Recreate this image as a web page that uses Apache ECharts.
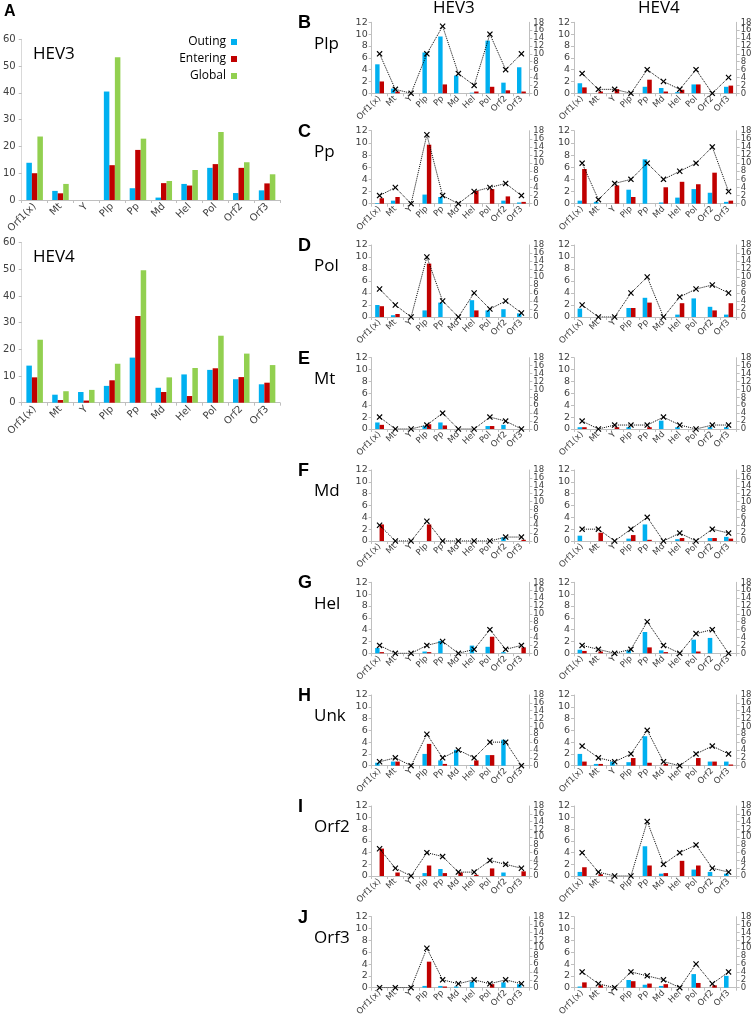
<!DOCTYPE html>
<html><head><meta charset="utf-8">
<script src="https://cdn.jsdelivr.net/npm/echarts/dist/echarts.min.js"></script>
<style>html,body{margin:0;padding:0;background:#fff}#c{width:756px;height:1020px}</style>
</head><body><div id="c"></div>
<script>
// ---------- DATA ----------
const categories = ['Orf1(x)','Mt','Y','Plp','Pp','Md','Hel','Pol','Orf2','Orf3'];
const seriesNames = ['Outing','Entering','Global'];

// Panel A
const a3Outing   = [13.9, 3.4, 0, 40.5, 4.4, 0.9, 6.0, 12.0, 2.6, 3.6];
const a3Entering = [10.0, 2.5, 0, 13.0, 18.7, 6.3, 5.4, 13.4, 12.0, 6.2];
const a3Global   = [23.7, 6.0, 0, 53.3, 22.9, 7.1, 11.2, 25.4, 14.1, 9.6];
const a4Outing   = [13.9, 3.0, 4.0, 6.3, 16.9, 5.6, 10.6, 12.3, 8.8, 6.9];
const a4Entering = [9.5, 1.0, 0.8, 8.4, 32.5, 4.0, 2.5, 12.9, 9.6, 7.5];
const a4Global   = [23.6, 4.3, 4.8, 14.6, 49.6, 9.5, 13.0, 25.1, 18.4, 14.1];

// Panels B-J
const rowLetters = ['B','C','D','E','F','G','H','I','J'];
const rowNames   = ['Plp','Pp','Pol','Mt','Md','Hel','Unk','Orf2','Orf3'];

const plp3Out  = [4.9,0.8,0,6.9,9.6,3.0,0.1,8.9,1.8,4.4];
const plp3Ent  = [2.0,0.3,0,0,1.5,0,0.3,1.1,0.5,0.3];
const plp3Glob = [10,1,0,10,17,5,2,15,6,10];
const plp4Out  = [1.7,0,0,0,1.1,0.9,0.2,1.5,0,1.1];
const plp4Ent  = [1.0,0.3,0.7,0,2.3,0.3,0.6,1.5,0,1.3];
const plp4Glob = [5,1,1,0,6,3,1,6,0,4];

const pp3Out  = [0.1,0.5,0,1.5,1.1,0,0,0,0.5,0.2];
const pp3Ent  = [0.9,1.1,0,9.7,0,0,2.1,2.4,1.2,0.3];
const pp3Glob = [2,4,0,17,2,0,3,4,5,2];
const pp4Out  = [0.5,0.3,0,2.3,7.3,0.2,1.0,2.4,1.8,0.3];
const pp4Ent  = [5.7,0,3.0,1.1,0,2.7,3.6,3.2,5.1,0.5];
const pp4Glob = [10,1,5,6,10,6,8,10,14,3];

const pol3Out  = [2.0,0.3,0,1.1,2.4,0,2.8,1.1,1.3,0.6];
const pol3Ent  = [1.8,0.5,0,8.9,0,0,1.1,0,0,0];
const pol3Glob = [7,3,0,15,4,0,6,2,4,1];
const pol4Out  = [1.4,0,0,1.5,3.2,0,0.4,3.1,1.7,0.4];
const pol4Ent  = [0,0,0,1.5,2.4,0,2.3,0,1.1,2.3];
const pol4Glob = [3,0,0,6,10,0,5,7,8,6];

const mt3Out  = [1.1,0,0,0.5,1.1,0,0,0.5,0.7,0];
const mt3Ent  = [0.7,0,0,0.8,0.6,0,0,0.5,0,0];
const mt3Glob = [3,0,0,1,4,0,0,3,2,0];
const mt4Out  = [0.3,0,0,0.3,0,1.4,0.3,0,0.3,0.3];
const mt4Ent  = [0.3,0,0.3,0,0.3,0,0,0,0,0];
const mt4Glob = [2,0,1,1,1,3,1,0,1,1];

const md3Out  = [0,0,0,0,0,0,0,0,0.6,0];
const md3Ent  = [2.8,0,0,2.8,0,0,0,0,0,0.2];
const md3Glob = [4,0,0,5,0,0,0,0,1,1];
const md4Out  = [0.9,0,0,0.4,2.8,0,0.3,0,0.5,0.7];
const md4Ent  = [0,1.4,0,1.0,0.2,0,0.5,0,0.5,0.4];
const md4Glob = [3,3,0,3,6,0,2,0,3,2];

const hel3Out  = [0.9,0,0,0.3,2.1,0,1.3,1.1,0.2,0];
const hel3Ent  = [0.2,0,0,0.2,0,0,0,2.8,0,1.0];
const hel3Glob = [2,0,0,2,3,0,1,6,1,2];
const hel4Out  = [0.6,0,0,0.5,3.6,0.5,0,2.3,2.6,0];
const hel4Ent  = [0.4,0.3,0,0,1.0,0.2,0,0.3,0,0];
const hel4Glob = [2,1,0,1,8,2,0,5,6,0];

const unk3Out  = [0.5,0.7,0,2.0,0.9,2.7,0.1,1.8,4.4,0];
const unk3Ent  = [0,0.7,0,3.7,0.3,0,0.9,1.8,0,0];
const unk3Glob = [1,2,0,8,2,4,2,6,6,0];
const unk4Out  = [2.0,0.3,0.7,0.6,5.0,0,0,0,0.7,0.7];
const unk4Ent  = [0.7,0.3,0,1.3,0.5,0.3,0,1.3,0.7,0.2];
const unk4Glob = [5,2,1,3,9,1,0,3,5,3];

const orf23Out  = [0,0,0,0.5,1.2,0,0,0,0.6,0];
const orf23Ent  = [4.7,0.6,0,1.8,0.5,0.6,0.2,1.3,0,0.8];
const orf23Glob = [7,2,0,6,5,1,1,4,3,2];
const orf24Out  = [0.7,0,0,0,5.1,0.4,0,1.1,0.7,0.4];
const orf24Ent  = [1.5,0.3,0,0,1.8,0.5,2.6,1.8,0,0];
const orf24Glob = [6,1,0,0,14,3,6,8,2,1];

const orf33Out  = [0,0,0,0.3,0.3,0.2,1.0,0,0.9,0.6];
const orf33Ent  = [0,0,0,4.4,0.2,0,0,0.6,0,0];
const orf33Glob = [0,0,0,10,2,1,2,1,2,1];
const orf34Out  = [0.2,0,0,1.3,0.5,0.3,0,2.3,0,2.0];
const orf34Ent  = [0.9,0.4,0,1.1,0.7,0.6,0,0.8,0.4,0];
const orf34Glob = [4,1,0,4,3,2,0,6,1,4];

const rowsHev3 = [
  [plp3Out,plp3Ent,plp3Glob],[pp3Out,pp3Ent,pp3Glob],[pol3Out,pol3Ent,pol3Glob],
  [mt3Out,mt3Ent,mt3Glob],[md3Out,md3Ent,md3Glob],[hel3Out,hel3Ent,hel3Glob],
  [unk3Out,unk3Ent,unk3Glob],[orf23Out,orf23Ent,orf23Glob],[orf33Out,orf33Ent,orf33Glob]
];
const rowsHev4 = [
  [plp4Out,plp4Ent,plp4Glob],[pp4Out,pp4Ent,pp4Glob],[pol4Out,pol4Ent,pol4Glob],
  [mt4Out,mt4Ent,mt4Glob],[md4Out,md4Ent,md4Glob],[hel4Out,hel4Ent,hel4Glob],
  [unk4Out,unk4Ent,unk4Glob],[orf24Out,orf24Ent,orf24Glob],[orf34Out,orf34Ent,orf34Glob]
];

// ---------- LAYOUT / STYLE ----------
const BLUE = '#00B0F0', RED = '#C00000', GREEN = '#92D050';
const AXIS_GRAY = '#BFBFBF', LABEL = '#404040';
const TICK_FONT = 'DejaVu Sans';
const rowTops = [22.3, 130.7, 245, 357.7, 470, 582.3, 695, 806, 916.7];
const rowHeights = [71, 73, 72, 71.3, 71, 71, 70.7, 70, 71];
const colLeft = [371.7, 574];
const colWidth = [157.6, 162.7];
const XMARK = 'path://M0,1.4L1.4,0L5,3.6L8.6,0L10,1.4L6.4,5L10,8.6L8.6,10L5,6.4L1.4,10L0,8.6L3.6,5Z';

const grids = [], xAxes = [], yAxes = [], series = [], graphics = [];

function catAxis(gi, fontSize, margin) {
  return {
    type: 'category', gridIndex: gi, data: categories,
    axisLine: {show: true, lineStyle: {color: AXIS_GRAY, width: 1}},
    axisTick: {show: true, interval: 0, length: 3, lineStyle: {color: AXIS_GRAY}},
    axisLabel: {interval: 0, rotate: 45, fontSize: fontSize, color: LABEL, fontFamily: TICK_FONT, margin: margin, hideOverlap: false},
    splitLine: {show: false}
  };
}
function valAxis(gi, max, interval, position, label, lineColor) {
  return {
    type: 'value', gridIndex: gi, min: 0, max: max, interval: interval, position: position,
    axisLine: {show: true, lineStyle: {color: lineColor || AXIS_GRAY, width: 1}},
    axisTick: {show: true, length: 3, lineStyle: {color: AXIS_GRAY}},
    axisLabel: Object.assign({color: LABEL, fontFamily: TICK_FONT, showMinLabel: true, showMaxLabel: true, hideOverlap: false}, label),
    splitLine: {show: false}
  };
}

// Panel A
[[39.3, 160.7, a3Outing, a3Entering, a3Global],
 [242.6, 160.1, a4Outing, a4Entering, a4Global]].forEach((p) => {
  const gi = grids.length;
  grids.push({left: 20, top: p[0], width: 260, height: p[1]});
  xAxes.push(catAxis(gi, 10, 5));
  const xi = xAxes.length - 1;
  const yi = yAxes.length;
  yAxes.push(valAxis(gi, 60, 10, 'left', {fontSize: 10, margin: 6}, '#D9D9D9'));
  [[p[2], BLUE, 'Outing'], [p[3], RED, 'Entering'], [p[4], GREEN, 'Global']].forEach((s) => {
    series.push({type: 'bar', name: s[2], xAxisIndex: xi, yAxisIndex: yi, data: s[0],
      itemStyle: {color: s[1]}, barGap: '0%', barCategoryGap: '36%', silent: true});
  });
});

// Panels B-J
const rightLabel = {fontSize: 8.5, margin: 4};
for (let r = 0; r < 9; r++) {
  [rowsHev3[r], rowsHev4[r]].forEach((d, c) => {
    const gi = grids.length;
    grids.push({left: colLeft[c], top: rowTops[r], width: colWidth[c], height: rowHeights[r]});
    xAxes.push(catAxis(gi, 8.5, 4));
    const xi = xAxes.length - 1;
    const yl = yAxes.length;
    yAxes.push(valAxis(gi, 12, 2, 'left', {fontSize: 9.5, margin: 4}));
    // right axis (data axis): labels 0,4,8,12,16
    const yr = yAxes.length;
    yAxes.push(valAxis(gi, 18, 2, 'right', Object.assign({}, rightLabel, {
      showMinLabel: true, showMaxLabel: false,
      formatter: (v) => (v % 4 === 0 ? String(v) : '')})));
    // companion right axis (same scale): labels 2,6,10,14,18
    const comp = valAxis(gi, 18, 2, 'right', Object.assign({}, rightLabel, {
      showMinLabel: false, showMaxLabel: true,
      formatter: (v) => (v % 4 === 2 ? String(v) : '')}));
    comp.axisLine = {show: false}; comp.axisTick = {show: false};
    yAxes.push(comp);
    series.push({type: 'bar', name: 'out', xAxisIndex: xi, yAxisIndex: yl, data: d[0],
      itemStyle: {color: BLUE}, barGap: '0%', barCategoryGap: '44%', silent: true});
    series.push({type: 'bar', name: 'ent', xAxisIndex: xi, yAxisIndex: yl, data: d[1],
      itemStyle: {color: RED}, barGap: '0%', barCategoryGap: '44%', silent: true});
    series.push({type: 'line', name: 'glob', xAxisIndex: xi, yAxisIndex: yr, data: d[2],
      symbol: XMARK, symbolSize: 6, showAllSymbol: true,
      lineStyle: {color: '#000', width: 1, type: 'dotted'}, itemStyle: {color: '#000'}, z: 5, silent: true});
  });
  graphics.push({type: 'text', left: 298, top: rowTops[r] - 8, style: {text: rowLetters[r], font: 'bold 18px "Liberation Sans"', fill: '#000'}});
  graphics.push({type: 'text', left: 314, top: rowTops[r] + 13, style: {text: rowNames[r], font: '17px "Open Sans"', fill: '#000'}});
}

graphics.push({type: 'text', left: 4, top: 4, style: {text: 'A', font: 'bold 16px "Liberation Sans"', fill: '#000'}});
graphics.push({type: 'text', left: 33, top: 46, style: {text: 'HEV3', font: '17px "Open Sans"', fill: '#000'}});
graphics.push({type: 'text', left: 33, top: 249, style: {text: 'HEV4', font: '17px "Open Sans"', fill: '#000'}});
graphics.push({type: 'text', left: 433, top: 0, style: {text: 'HEV3', font: '17px "Open Sans"', fill: '#000'}});
graphics.push({type: 'text', left: 638, top: 0, style: {text: 'HEV4', font: '17px "Open Sans"', fill: '#000'}});

const chart = echarts.init(document.getElementById('c'), null, {renderer: 'canvas'});
chart.setOption({
  animation: false,
  backgroundColor: '#fff',
  grid: grids, xAxis: xAxes, yAxis: yAxes, series: series,
  legend: {
    data: seriesNames, orient: 'vertical', right: 519, top: 36, padding: 0,
    align: 'right', icon: 'rect', itemWidth: 6, itemHeight: 6, itemGap: 5,
    selectedMode: false,
    textStyle: {fontSize: 12, color: '#000', fontFamily: 'Open Sans', padding: [0, 0, 0, 0]}
  },
  graphic: graphics
});
</script>
</body></html>
